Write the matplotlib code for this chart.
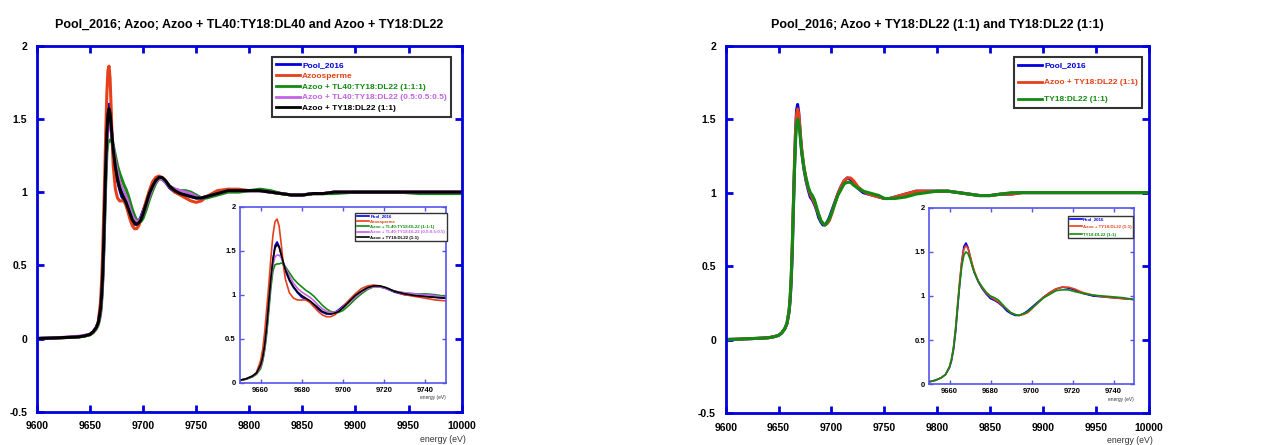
import matplotlib
matplotlib.use('Agg')
import matplotlib.pyplot as plt

plt.rcParams['font.family'] = ['Liberation Sans', 'DejaVu Sans']

# energy grid (eV)
energy = [9600, 9610, 9620, 9630, 9640, 9645, 9650, 9653, 9656, 9658,
          9660, 9661, 9662, 9663, 9664, 9665, 9666, 9667, 9668, 9669, 9670, 9671, 9672,
          9674, 9676, 9678, 9680, 9682, 9684, 9686, 9688, 9690, 9692, 9694, 9696, 9698,
          9700, 9703, 9706, 9709, 9712, 9715, 9718, 9721,
          9725, 9730, 9735, 9740, 9745, 9750, 9755, 9760,
          9770, 9780, 9790, 9800, 9810, 9820, 9830, 9840, 9850, 9860, 9870, 9880,
          9900, 9920, 9940, 9960, 9980, 10000]

pool_2016 = [0.0, 0.002, 0.005, 0.008, 0.012, 0.018, 0.028, 0.045, 0.075, 0.11,
             0.19, 0.27, 0.40, 0.60, 0.88, 1.15, 1.40, 1.56, 1.60, 1.55, 1.45, 1.35, 1.27,
             1.16, 1.08, 1.02, 0.97, 0.95, 0.92, 0.88, 0.83, 0.80, 0.78, 0.78, 0.80, 0.83,
             0.87, 0.93, 0.99, 1.04, 1.08, 1.10, 1.09, 1.07,
             1.03, 1.00, 0.99, 0.98, 0.97, 0.96, 0.96, 0.97,
             0.99, 1.01, 1.01, 1.01, 1.01, 1.00, 0.99, 0.98, 0.98, 0.99, 0.99, 1.00,
             1.00, 1.00, 1.00, 1.00, 1.00, 1.00]

azoosperme = [0.0, 0.002, 0.004, 0.008, 0.012, 0.018, 0.026, 0.04, 0.07, 0.12,
              0.25, 0.38, 0.58, 0.85, 1.12, 1.42, 1.68, 1.83, 1.86, 1.78, 1.58, 1.35, 1.18,
              1.02, 0.96, 0.94, 0.94, 0.94, 0.91, 0.86, 0.81, 0.77, 0.75, 0.75, 0.77, 0.81,
              0.86, 0.94, 1.01, 1.07, 1.10, 1.11, 1.10, 1.08,
              1.04, 1.00, 0.98, 0.96, 0.94, 0.93, 0.94, 0.97,
              1.01, 1.02, 1.02, 1.01, 1.01, 1.00, 0.99, 0.98, 0.98, 0.99, 0.99, 1.00,
              1.00, 1.00, 1.00, 1.00, 1.00, 1.00]

azoo_tl40_111 = [0.0, 0.002, 0.004, 0.007, 0.011, 0.016, 0.025, 0.04, 0.065, 0.095,
                 0.16, 0.24, 0.37, 0.56, 0.82, 1.08, 1.27, 1.34, 1.35, 1.35, 1.36, 1.35, 1.32,
                 1.25, 1.18, 1.13, 1.09, 1.05, 1.02, 0.98, 0.93, 0.88, 0.84, 0.81, 0.80, 0.80,
                 0.82, 0.88, 0.95, 1.01, 1.06, 1.09, 1.09, 1.07,
                 1.04, 1.02, 1.01, 1.01, 1.00, 0.98, 0.96, 0.96,
                 0.98, 1.00, 1.00, 1.01, 1.02, 1.01, 0.99, 0.98, 0.98, 0.99, 0.99, 0.99,
                 1.00, 1.00, 1.00, 0.99, 0.99, 0.99]

azoo_tl40_half = [0.0, 0.003, 0.006, 0.01, 0.016, 0.022, 0.03, 0.045, 0.072, 0.105,
                  0.18, 0.27, 0.40, 0.62, 0.90, 1.15, 1.34, 1.43, 1.45, 1.45, 1.42, 1.37, 1.31,
                  1.21, 1.13, 1.07, 1.03, 1.00, 0.97, 0.93, 0.88, 0.84, 0.81, 0.80, 0.80, 0.82,
                  0.85, 0.91, 0.97, 1.03, 1.07, 1.09, 1.09, 1.07,
                  1.04, 1.02, 1.01, 1.00, 0.99, 0.97, 0.96, 0.97,
                  0.99, 1.01, 1.01, 1.01, 1.01, 1.00, 0.99, 0.98, 0.98, 0.99, 0.99, 1.00,
                  1.00, 1.00, 1.00, 1.00, 1.00, 1.00]

azoo_ty18_11 = [0.0, 0.002, 0.005, 0.008, 0.012, 0.018, 0.028, 0.045, 0.075, 0.11,
                0.20, 0.29, 0.43, 0.65, 0.93, 1.19, 1.40, 1.53, 1.57, 1.54, 1.46, 1.37, 1.29,
                1.17, 1.09, 1.03, 0.99, 0.96, 0.93, 0.89, 0.85, 0.81, 0.79, 0.78, 0.79, 0.81,
                0.85, 0.92, 0.99, 1.04, 1.08, 1.10, 1.10, 1.08,
                1.04, 1.01, 0.99, 0.98, 0.97, 0.96, 0.96, 0.97,
                0.99, 1.01, 1.01, 1.01, 1.01, 1.00, 0.99, 0.98, 0.98, 0.99, 0.99, 1.00,
                1.00, 1.00, 1.00, 1.00, 1.00, 1.00]

ty18_dl22 = [0.0, 0.002, 0.005, 0.008, 0.012, 0.018, 0.028, 0.045, 0.075, 0.11,
             0.20, 0.29, 0.43, 0.64, 0.90, 1.14, 1.34, 1.46, 1.50, 1.48, 1.42, 1.34, 1.27,
             1.17, 1.10, 1.04, 1.00, 0.98, 0.95, 0.90, 0.85, 0.81, 0.79, 0.78, 0.80, 0.82,
             0.86, 0.92, 0.98, 1.02, 1.06, 1.07, 1.07, 1.05,
             1.03, 1.01, 1.00, 0.99, 0.98, 0.96, 0.96, 0.96,
             0.97, 0.99, 1.00, 1.01, 1.01, 1.00, 0.99, 0.98, 0.98, 0.99, 1.00, 1.00,
             1.00, 1.00, 1.00, 1.00, 1.00, 1.00]

left_series = [
    ("Pool_2016", pool_2016, '#0000dd'),
    ("Azoosperme", azoosperme, '#e5401a'),
    ("Azoo + TL40:TY18:DL22 (1:1:1)", azoo_tl40_111, '#128a12'),
    ("Azoo + TL40:TY18:DL22 (0.5:0.5:0.5)", azoo_tl40_half, '#c262e6'),
    ("Azoo + TY18:DL22 (1:1)", azoo_ty18_11, '#000000'),
]
right_series = [
    ("Pool_2016", pool_2016, '#0000dd'),
    ("Azoo + TY18:DL22 (1:1)", azoo_ty18_11, '#e5401a'),
    ("TY18:DL22 (1:1)", ty18_dl22, '#128a12'),
]
left_title = "Pool_2016; Azoo; Azoo + TL40:TY18:DL40 and Azoo + TY18:DL22"
right_title = "Pool_2016; Azoo + TY18:DL22 (1:1) and TY18:DL22 (1:1)"

main_yticks = [-0.5, 0, 0.5, 1, 1.5, 2]
main_ylabels = ['-0.5', '0', '0.5', '1', '1.5', '2']
main_xticks = [9600, 9650, 9700, 9750, 9800, 9850, 9900, 9950, 10000]
ins_yticks = [0, 0.5, 1, 1.5, 2]
ins_ylabels = ['0', '0.5', '1', '1.5', '2']
ins_xticks = [9660, 9680, 9700, 9720, 9740]


def draw_panel(fig, main_rect, ins_rect, series, title, spacing, ins_spacing,
               leg_anchor, ins_anchor):
    ax = fig.add_axes(main_rect)
    for label, vals, color in series:
        ax.plot(energy, vals, color=color, lw=2.2, label=label)
    ax.set_xlim(9600, 10000)
    ax.set_ylim(-0.5, 2)
    ax.set_xticks(main_xticks)
    ax.set_yticks(main_yticks)
    ax.set_yticklabels(main_ylabels)
    ax.tick_params(direction='in', top=True, right=True, length=5, width=2,
                   color='#0000dd', labelsize=7.5, pad=7)
    for t in ax.get_xticklabels() + ax.get_yticklabels():
        t.set_fontweight('bold')
    for s in ax.spines.values():
        s.set_color('#0000dd')
        s.set_linewidth(2)
    ax.set_title(title, fontsize=9, fontweight='bold', pad=13)
    ax.text(1.01, -0.075, "energy (eV)", transform=ax.transAxes, fontsize=6.3,
            color='#333333', ha='right', va='center')
    leg = ax.legend(loc='upper right', bbox_to_anchor=leg_anchor, borderaxespad=0,
                    fontsize=6, handlelength=2.8, handletextpad=0.3,
                    labelspacing=spacing, borderpad=0.5, fancybox=False, framealpha=1)
    leg.get_frame().set_edgecolor('#333333')
    leg.get_frame().set_linewidth(1.5)
    for txt, (label, vals, color) in zip(leg.get_texts(), series):
        txt.set_color(color)
        txt.set_fontweight('bold')
    for ln in leg.get_lines():
        ln.set_linewidth(2)

    ins = fig.add_axes(ins_rect)
    for label, vals, color in series:
        ins.plot(energy, vals, color=color, lw=1.2, label=label)
    ins.set_xlim(9650, 9750)
    ins.set_ylim(0, 2)
    ins.set_xticks(ins_xticks)
    ins.set_yticks(ins_yticks)
    ins.set_yticklabels(ins_ylabels)
    ins.tick_params(direction='in', top=True, right=True, length=3, width=1,
                    color='#5555ee', labelsize=5.5, pad=3)
    for t in ins.get_xticklabels() + ins.get_yticklabels():
        t.set_fontweight('bold')
    for s in ins.spines.values():
        s.set_color('#5555ee')
        s.set_linewidth(1.2)
    ins.text(1.0, -0.085, "energy (eV)", transform=ins.transAxes, fontsize=3.5,
             color='#333333', ha='right', va='center')
    ileg = ins.legend(loc='upper right', bbox_to_anchor=ins_anchor, borderaxespad=0,
                      fontsize=3.2, handlelength=2.8, handletextpad=0.2,
                      labelspacing=ins_spacing, borderpad=0.35, fancybox=False,
                      framealpha=1)
    ileg.get_frame().set_edgecolor('#333333')
    ileg.get_frame().set_linewidth(1)
    for txt, (label, vals, color) in zip(ileg.get_texts(), series):
        txt.set_color(color)
        txt.set_fontweight('bold')
    return ax, ins


fig = plt.figure(figsize=(12.85, 4.45), dpi=100)
draw_panel(fig, [0.0286, 0.0748, 0.3307, 0.8225], [0.1868, 0.140, 0.1601, 0.3955],
           left_series, left_title, 0.37, 0.27, (0.975, 0.970), (1.005, 0.966))
draw_panel(fig, [0.5647, 0.0719, 0.3294, 0.8254], [0.7230, 0.1364, 0.1595, 0.3969],
           right_series, right_title, 1.1, 0.8, (0.984, 0.968), (0.997, 0.955))
plt.savefig("out.png", dpi=100)
